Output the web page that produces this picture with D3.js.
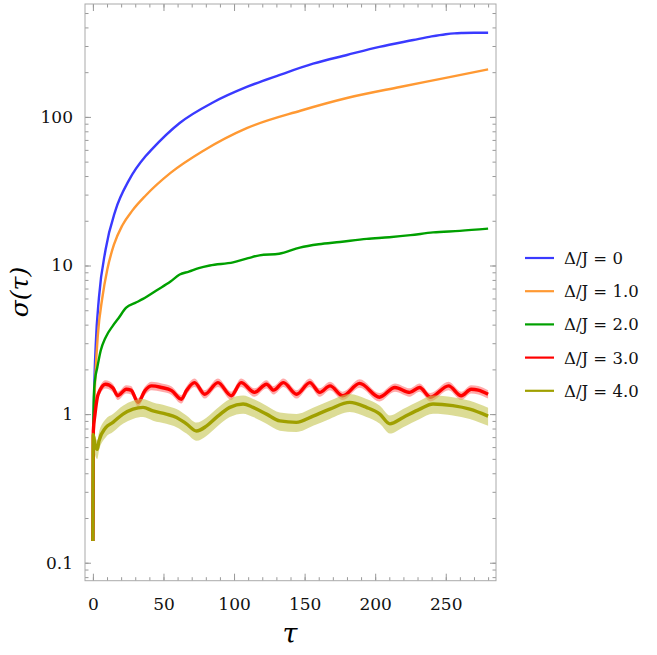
<!DOCTYPE html>
<html><head><meta charset="utf-8">
<script src="https://cdn.jsdelivr.net/npm/d3@7"></script>
<style>body{margin:0;background:#fff}</style>
</head><body>
<svg id="c" width="657" height="655"></svg>
<script>
// ---- data ----
const blueTau = [0, 0.3, 1, 2, 4.3, 9, 16, 25.5, 37.4, 41.4, 61.5, 85, 109, 132, 156, 180, 203, 227, 240, 250, 256, 262, 270, 280];
const blueVal = [0.14, 0.5, 1.5, 2.9, 6.1, 12.8, 23.5, 37.4, 54.5, 60, 91, 125, 159, 191, 228, 261, 296, 329, 348, 360, 365, 367, 368, 368];

const orangeTau = [0, 0.3, 1, 2, 3.5, 6.6, 10.2, 14.9, 20.8, 27.9, 37.4, 55, 78, 109, 147, 180, 217.5, 250, 280];
const orangeVal = [0.14, 0.4, 1.1, 2.0, 3.4, 6.0, 9.4, 13.8, 18.6, 23.4, 29.6, 42, 59, 84, 110, 134, 159, 183, 209];

const greenTau = [0, 0.3, 0.7, 1.5, 3.1, 5.5, 9, 14.2, 18, 23.6, 30, 35.5, 45, 55, 61.5, 68, 75, 82.8, 99.3, 110, 118, 132, 146.6, 160, 175, 194, 210, 225, 241, 260, 280];
const greenVal = [0.14, 0.8, 1.36, 1.7, 2.06, 2.67, 3.28, 3.94, 4.4, 5.2, 5.6, 5.96, 6.8, 7.8, 8.7, 9.1, 9.6, 10.0, 10.5, 11.2, 11.7, 12.0, 13.2, 13.9, 14.4, 15.1, 15.5, 16.0, 16.7, 17.1, 17.7];

const redTau = [0, 0.3, 1.5, 3.1, 5, 9, 14.2, 17.6, 23.6, 27, 32, 36.9, 41.6, 48.7, 55.8, 62.7, 66.3, 72, 79.2, 88.6, 98, 105, 114.5, 123, 128, 135, 144.3, 153.7, 160.7, 168, 177, 189, 203, 214, 224.5, 231.5, 239, 252, 261, 268, 273, 280];
const redVal = [0.14, 0.77, 1.0, 1.29, 1.45, 1.59, 1.5, 1.33, 1.47, 1.45, 1.2, 1.44, 1.55, 1.51, 1.44, 1.26, 1.44, 1.63, 1.36, 1.63, 1.33, 1.63, 1.40, 1.59, 1.45, 1.63, 1.36, 1.63, 1.40, 1.55, 1.33, 1.61, 1.30, 1.51, 1.40, 1.51, 1.30, 1.55, 1.33, 1.47, 1.45, 1.36];

const oliveTau = [0, 0.2, 1.5, 3.1, 4.3, 9, 14.2, 21.3, 28.4, 35.5, 42.6, 52, 59.2, 66.3, 73.4, 80.4, 87.5, 97, 106.4, 113.5, 123, 132.4, 144.1, 156, 167.8, 182, 193.8, 203.3, 210.4, 219.8, 231.6, 241, 255, 267, 280];
const oliveVal = [0.14, 0.73, 0.62, 0.58, 0.66, 0.81, 0.88, 1.0, 1.08, 1.11, 1.05, 1.0, 0.95, 0.86, 0.77, 0.83, 0.95, 1.11, 1.17, 1.11, 1.0, 0.90, 0.88, 0.97, 1.08, 1.2, 1.11, 1.0, 0.86, 0.95, 1.08, 1.17, 1.14, 1.08, 0.97];

const seriesLabels = ["Δ/J = 0", "Δ/J = 1.0", "Δ/J = 2.0", "Δ/J = 3.0", "Δ/J = 4.0"];
const seriesColors = ["#3a3aff", "#ff9933", "#00a000", "#ff0000", "#a0a000"];
const bandColors = [null, null, null, "#ff7070", "#c4c450"];
const bandWidth = [0, 0, 0, 0.065, 0.14]; // relative half-width of the error band

const xMajor = [0, 50, 100, 150, 200, 250];
const xMinor = d3.range(0, 290, 10);
const yMajor = [0.1, 1, 10, 100];
const yMajorLabels = ["0.1", "1", "10", "100"];

// ---- layout ----
const L = 85, R = 496, T = 4, B = 580.7;
const svg = d3.select("#c");
const x = d3.scaleLinear().domain([-5.6, 285.6]).range([L, R]);
const y = d3.scaleLog().domain([0.0757, 575]).range([B, T]);

const yMinor = [];
[0.01, 0.1, 1, 10, 100].forEach(d => { for (let k = 1; k <= 9; k++) { const v = d * k; if (v >= 0.0757 && v <= 575) yMinor.push(v); } });

svg.append("defs").append("clipPath").attr("id", "clip")
  .append("rect").attr("x", L).attr("y", T).attr("width", R - L).attr("height", B - T);

const tickColor = "#999";
function styleAxis(g) {
  g.select(".domain").remove();
  g.selectAll(".tick line").attr("stroke", tickColor).attr("stroke-width", 1);
  g.selectAll(".tick text").attr("font-family", "DejaVu Serif").attr("font-size", 17).attr("fill", "#111");
}
// bottom
svg.append("g").attr("transform", `translate(0,${B})`).call(d3.axisBottom(x).tickValues(xMinor).tickSize(-3.5).tickFormat("")).call(styleAxis);
svg.append("g").attr("transform", `translate(0,${B})`).call(d3.axisBottom(x).tickValues(xMajor).tickSize(-7).tickPadding(17).tickFormat(d3.format("d"))).call(styleAxis);
// top
svg.append("g").attr("transform", `translate(0,${T})`).call(d3.axisTop(x).tickValues(xMinor).tickSize(-3.5).tickFormat("")).call(styleAxis);
svg.append("g").attr("transform", `translate(0,${T})`).call(d3.axisTop(x).tickValues(xMajor).tickSize(-7).tickFormat("")).call(styleAxis);
// left
svg.append("g").attr("transform", `translate(${L},0)`).call(d3.axisLeft(y).tickValues(yMinor).tickSize(-3.5).tickFormat("")).call(styleAxis);
svg.append("g").attr("transform", `translate(${L},0)`).call(d3.axisLeft(y).tickValues(yMajor).tickSize(-6).tickPadding(12).tickFormat((d, i) => yMajorLabels[i])).call(styleAxis);
// right
svg.append("g").attr("transform", `translate(${R},0)`).call(d3.axisRight(y).tickValues(yMinor).tickSize(-3.5).tickFormat("")).call(styleAxis);
svg.append("g").attr("transform", `translate(${R},0)`).call(d3.axisRight(y).tickValues(yMajor).tickSize(-6).tickFormat("")).call(styleAxis);

// frame
svg.append("rect").attr("x", L).attr("y", T).attr("width", R - L).attr("height", B - T)
  .attr("fill", "none").attr("stroke", "#aaa").attr("stroke-width", 1);

// curves
const series = [
  [blueTau, blueVal], [orangeTau, orangeVal], [greenTau, greenVal], [redTau, redVal], [oliveTau, oliveVal]
].map(([t, v]) => t.map((tt, i) => ({ t: tt, v: v[i] })));

const plot = svg.append("g").attr("clip-path", "url(#clip)");
const line = d3.line().x(d => x(d.t)).y(d => y(d.v)).curve(d3.curveMonotoneX);
const area = (w) => d3.area().x(d => x(d.t))
  .y0(d => y(d.v * (1 - (d.t > 0.5 ? w : 0))))
  .y1(d => y(d.v * (1 + (d.t > 0.5 ? w : 0)))).curve(d3.curveMonotoneX);

series.forEach((s, i) => {
  if (bandColors[i]) {
    plot.append("path").datum(s).attr("d", area(bandWidth[i])).attr("fill", bandColors[i]).attr("opacity", 0.6);
  }
  plot.append("path").datum(s).attr("d", line).attr("fill", "none")
    .attr("stroke", seriesColors[i]).attr("stroke-width", i >= 3 ? 3.4 : 2.4).attr("stroke-linejoin", "round");
});

// legend
const lg = svg.append("g");
seriesLabels.forEach((lab, i) => {
  const yy = 258 + i * 33.2;
  lg.append("line").attr("x1", 525).attr("x2", 554).attr("y1", yy).attr("y2", yy)
    .attr("stroke", seriesColors[i]).attr("stroke-width", 2.2);
  lg.append("text").attr("x", 564).attr("y", yy + 6).attr("font-family", "DejaVu Serif")
    .attr("font-size", 16.5).attr("fill", "#111").text(lab);
});

// axis labels
svg.append("text").attr("x", 290).attr("y", 643).attr("text-anchor", "middle")
  .attr("font-family", "DejaVu Serif").attr("font-style", "italic").attr("font-size", 27).text("τ");
svg.append("text").attr("transform", "translate(28,292) rotate(-90)").attr("text-anchor", "middle")
  .attr("font-family", "DejaVu Serif").attr("font-style", "italic").attr("font-size", 25).text("σ(τ)");
</script>
</body></html>
